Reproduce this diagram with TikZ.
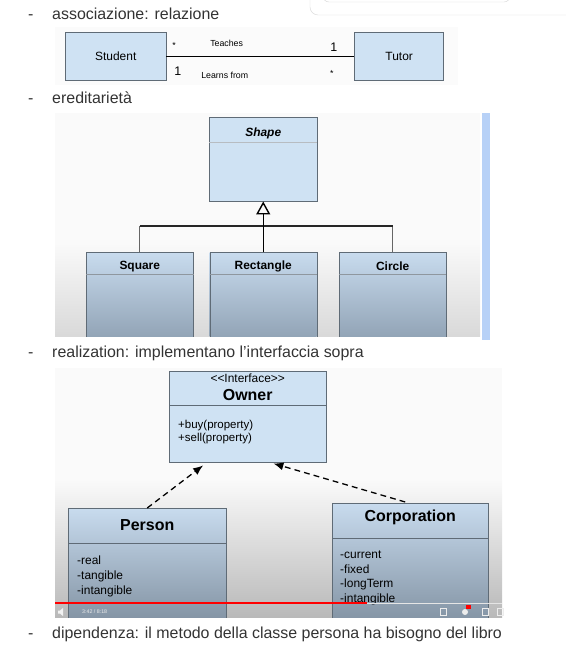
\documentclass[tikz,border=0pt]{standalone}
\usepackage{fontspec}
\setmainfont{Liberation Sans}
\usepackage{xcolor}
\usepackage{tikz}
\usetikzlibrary{positioning}
\usetikzlibrary{arrows.meta}

\definecolor{boxblue}{HTML}{CFE2F3}
\definecolor{boxline}{HTML}{5F6B76}
\definecolor{shadetop}{HTML}{C8DBEE}
\definecolor{shadebot}{HTML}{8C9EB0}
\definecolor{bullettext}{HTML}{333333}
\definecolor{barblue}{HTML}{B7D1F7}

\begin{document}
\begin{tikzpicture}[x=0.03cm, y=-0.03cm, node distance=1cm,
  bullet/.style={anchor=base west, inner sep=0pt, text=bullettext, font=\fontsize{13.6}{16}\selectfont},
  assoc/.style={draw=boxline, fill=boxblue, minimum height=1.44cm, inner sep=0pt, font=\fontsize{10.2}{12}\selectfont},
  mult/.style={inner sep=0pt, font=\fontsize{7.5}{9}\selectfont},
  uml/.style={draw=boxline, top color=shadetop, bottom color=shadebot, inner sep=0pt},
  clsname/.style={inner sep=0pt, font=\fontsize{10.2}{12}\selectfont\bfseries},
  bigname/.style={inner sep=0pt, font=\fontsize{13.6}{16}\selectfont\bfseries},
  attr/.style={anchor=west, align=left, inner sep=0pt, font=\fontsize{10.2}{12.5}\selectfont},
  realize/.style={dash pattern=on 5pt off 3.5pt, line width=1.1pt, -{Latex[length=0.3cm, width=0.24cm]}}]
\useasboundingbox (0,0) rectangle (566,665);

% search box at the top
\draw[gray!30, rounded corners=0.24cm, fill=white] (310,-12) rectangle (590,15);
\draw[gray!30, rounded corners=0.18cm] (323,-12) rectangle (510,2);

% association
\node[bullet] (d1) at (28,19) {-};
\node[bullet] (b1) at (52,19) {associazione: relazione};
\fill[gray!3] (55,27) rectangle (458,85);
\node[assoc, minimum width=3.03cm, anchor=north west] (stu) at (65,32) {Student};
\node[assoc, minimum width=2.67cm, right=5.64cm of stu] (tut) {Tutor};
\draw[line width=0.9pt] (stu) -- (tut)
  node[mult, pos=0.04, yshift=0.33cm] {*}
  node[mult, pos=0.32, yshift=0.39cm] {Teaches}
  node[mult, pos=0.89, yshift=0.27cm, font=\fontsize{10.6}{12}\selectfont] {1}
  node[mult, pos=0.06, yshift=-0.45cm, font=\fontsize{10.6}{12}\selectfont] {1}
  node[mult, pos=0.31, yshift=-0.57cm] {Learns from}
  node[mult, pos=0.88, yshift=-0.51cm] {*};

% inheritance
\node[bullet] (d2) at (28,103) {-};
\node[bullet] (b2) at (52,103) {ereditarietà};
\fill[gray!4] (55,113) rectangle (480,243);
\shade[top color=gray!4, bottom color=gray!30] (55,243) rectangle (480,336);
\fill[barblue] (482,113) rectangle (490,340);
\node[draw=boxline, fill=boxblue, minimum width=3.24cm, minimum height=2.52cm, inner sep=0pt, anchor=north west] (shp) at (209,117) {};
\node[clsname, font=\fontsize{10.2}{12}\selectfont\bfseries\itshape] (shpname) at ([yshift=-0.48cm]shp.north) {Shape};
\draw[boxline!45] ([yshift=-0.75cm]shp.north west) -- ([yshift=-0.75cm]shp.north east);
\begin{scope}
\clip (55,113) rectangle (480,336);
\node[uml, minimum width=3.21cm, minimum height=2.8cm, below=1.53cm of shp] (rec) {};
\node[uml, minimum width=3.21cm, minimum height=2.8cm, left=0.48cm of rec] (sq) {};
\node[uml, minimum width=3.21cm, minimum height=2.8cm, right=0.66cm of rec] (cir) {};
\end{scope}
\foreach \n/\t in {sq/Square, rec/Rectangle, cir/Circle} {
  \node[clsname] (\n-name) at ([yshift=-0.42cm]\n.north) {\t};
  \draw[boxline!70] ([yshift=-0.66cm]\n.north west) -- ([yshift=-0.66cm]\n.north east);
}
\coordinate (bar) at (263,226);
\draw[black!60, line width=0.8pt] (sq.north) -- (sq.north |- bar);
\draw[black!60, line width=0.8pt] (cir.north) -- (cir.north |- bar);
\draw[black!85, line width=1.2pt] (sq.north |- bar) -- (cir.north |- bar);
\draw[line width=1.2pt, -{Triangle[open, length=0.39cm, width=0.42cm]}] (rec.north) -- (shp.south);

% realization
\node[bullet] (d3) at (28,357) {-};
\node[bullet] (b3) at (52,357) {realization: implementano l’interfaccia sopra};
\fill[gray!4] (55,368) rectangle (502,480);
\shade[top color=gray!4, bottom color=gray!55] (55,480) rectangle (502,617);
\node[draw=boxline, fill=boxblue, minimum width=4.71cm, minimum height=2.73cm, inner sep=0pt, anchor=north west] (own) at (169,371) {};
\node[inner sep=0pt, font=\fontsize{10.2}{12}\selectfont] (stereo) at ([yshift=-0.21cm]own.north) {<{}<Interface>{}>};
\node[bigname] (ownname) at ([yshift=-0.72cm]own.north) {Owner};
\draw[boxline] ([yshift=-1.02cm]own.north west) -- ([yshift=-1.02cm]own.north east);
\node[attr, font=\fontsize{9.8}{11.05}\selectfont] (ownops) at ([xshift=0.27cm, yshift=-1.82cm]own.north west) {+buy(property)\\+sell(property)};
\begin{scope}
\clip (55,368) rectangle (502,617);
\node[uml, top color=shadetop, bottom color=shadebot!90!black, minimum width=4.74cm, minimum height=3.6cm, anchor=north west] (per) at (68,508) {};
\node[uml, top color=shadetop, bottom color=shadebot!90!black, minimum width=4.68cm, minimum height=3.8cm, anchor=north west] (cor) at (332,503) {};
\end{scope}
\node[bigname] (pername) at ([yshift=-0.51cm]per.north) {Person};
\draw[boxline] ([yshift=-1.05cm]per.north west) -- ([yshift=-1.05cm]per.north east);
\node[attr, font=\fontsize{10.2}{12.75}\selectfont] (perattr) at ([xshift=0.27cm, yshift=-2.04cm]per.north west) {-real\\-tangible\\-intangible};
\node[bigname] (corname) at ([yshift=-0.42cm]cor.north) {Corporation};
\draw[boxline] ([yshift=-1.05cm]cor.north west) -- ([yshift=-1.05cm]cor.north east);
\node[attr] (corattr) at ([xshift=0.24cm, yshift=-2.25cm]cor.north west) {-current\\-fixed\\-longTerm\\-intangible};
\draw[realize] (per.north) -- ([xshift=-1.34cm, yshift=-0.09cm]own.south);
\draw[realize] ([xshift=-0.15cm, yshift=0.03cm]cor.north) -- ([xshift=0.77cm, yshift=-0.03cm]own.south);

% video controls
\draw[red, line width=1.2pt] (55,603) -- (367,603);
\draw[white!80!gray, line width=0.8pt] (367,603) -- (502,603);
\fill[white!90!gray] (58,610.5) -- (60,610.5) -- (63,608) -- (63,616) -- (60,613.5) -- (58,613.5) -- cycle;
\node[anchor=west, inner sep=0pt, text=white!85!gray, font=\fontsize{4.5}{5}\selectfont] (time) at (82,612) {3:42 / 8:18};
\foreach \ix in {443,485,500}
  \draw[white!85!gray, line width=0.6pt] (\ix-3,608) rectangle (\ix+3,615);
\fill[white!85!gray] (465,612) circle (3);
\fill[red] (466,605) rectangle (471,609);

% dependency
\node[bullet] (d4) at (28,638) {-};
\node[bullet] (b4) at (52,638) {dipendenza: il metodo della classe persona ha bisogno del libro};
\end{tikzpicture}
\end{document}
